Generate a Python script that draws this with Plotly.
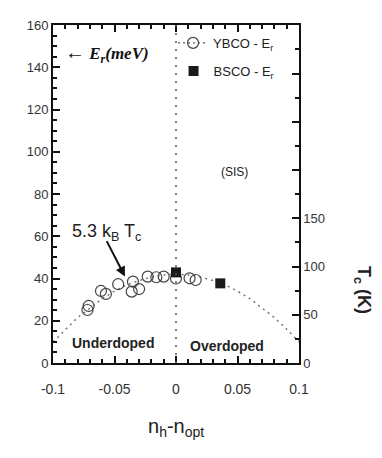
import plotly.graph_objects as go

# YBCO resonance energy E_r (meV) vs doping offset
ybco_x = [-0.072, -0.071, -0.061, -0.057, -0.047, -0.035, -0.036, -0.030,
          -0.023, -0.016, -0.010, 0.000, 0.011, 0.016]
ybco_e = [25.1, 27.0, 34.1, 32.7, 37.3, 38.5, 33.8, 35.0,
          40.9, 40.6, 40.9, 40.0, 40.1, 39.3]

# BSCO resonance energy
bsco_x = [0.000, 0.036]
bsco_e = [42.9, 37.7]

# dotted Tc dome (in E_r units)
dome_x = [-0.1, -0.09, -0.08, -0.07, -0.06, -0.05, -0.04, -0.03, -0.02, -0.01, 0.0,
          0.01, 0.02, 0.03, 0.04, 0.05, 0.06, 0.07, 0.08, 0.09, 0.1]
dome_e = [10, 16, 21.5, 26, 30.5, 34, 37, 39, 40.7, 41.7, 42,
          41.7, 40.7, 39, 37, 34, 30.5, 26, 21.5, 16, 10]

x_ticks = [-0.1, -0.05, 0, 0.05, 0.1]
x_labels = ["-0.1", "-0.05", "0", "0.05", "0.1"]
tc_ticks = [0, 50, 100, 150, 200, 250, 300, 350]
tc_labels = ["0", "50", "100", "150", "", "", "", ""]

E_MAX = 160
TC_MAX = E_MAX / (5.3 * 0.08617)  # right axis scaled so that E = 5.3 kB Tc

FONT = "Liberation Sans, Arial, sans-serif"
INK = "#222"

fig = go.Figure()

fig.add_trace(go.Scatter(
    x=dome_x, y=dome_e, mode="lines", showlegend=False,
    line=dict(color="#777", width=1.5, dash="2px,4px")))

fig.add_trace(go.Scatter(
    x=ybco_x, y=ybco_e, mode="markers", showlegend=False,
    marker=dict(symbol="circle-open", size=11, color="#444", line=dict(width=1.2))))

fig.add_trace(go.Scatter(
    x=bsco_x, y=bsco_e, mode="markers", name="BSCO - E<sub>r</sub>", legend="legend2",
    marker=dict(symbol="square", size=10, color="#1a1a1a")))

# legend-only entry: dotted line with an open circle
fig.add_trace(go.Scatter(
    x=[None], y=[None], mode="lines+markers", name="YBCO - E<sub>r</sub>",
    line=dict(color="#555", width=1.2, dash="2px,3px"),
    marker=dict(symbol="circle-open", size=11, color="#444", line=dict(width=1.2))))

# invisible trace to bring in the Tc axis
fig.add_trace(go.Scatter(x=[None], y=[None], yaxis="y2", showlegend=False, hoverinfo="skip"))

fig.add_shape(type="line", xref="x", yref="y", x0=0, x1=0, y0=0, y1=E_MAX,
              line=dict(color="#555", width=1.5, dash="2px,6px"))

ann = [
    dict(x=-0.092, y=146.7, xanchor="left", yanchor="middle",
         text="<span style='font-size:20px'>←</span> <b><i>E<sub>r</sub>(meV)</i></b>",
         font=dict(family="Liberation Serif, Times New Roman, serif", size=17, color="#111")),
    dict(x=0.0476, y=90.4, text="(SIS)", font=dict(family=FONT, size=12, color=INK)),
    dict(x=-0.0862, y=62.0, xanchor="left", yanchor="middle",
         text="5.3 k<sub>B</sub> T<sub>c</sub>", font=dict(family=FONT, size=18, color=INK)),
    dict(x=-0.0512, y=9.5, text="<b>Underdoped</b>", font=dict(family=FONT, size=14, color=INK)),
    dict(x=0.0415, y=8.0, text="<b>Overdoped</b>", font=dict(family=FONT, size=14, color=INK)),
    dict(xref="paper", yref="paper", x=1.256, y=0.216, textangle=90,
         xanchor="center", yanchor="middle",
         text="<b>T<sub>c</sub> (K)</b>", font=dict(family=FONT, size=18, color=INK)),
    dict(xref="paper", yref="paper", x=0.5, y=-0.19, xanchor="center", yanchor="middle",
         text="n<sub>h</sub>-n<sub>opt</sub>", font=dict(family=FONT, size=20, color=INK)),
]
for a in ann:
    a.setdefault("xref", "x")
    a.setdefault("yref", "y")
    a["showarrow"] = False
    fig.add_annotation(**a)

fig.add_annotation(x=-0.0415, y=40.9, ax=-19, ay=-37, text="", showarrow=True,
                   arrowhead=2, arrowsize=1, arrowwidth=2, arrowcolor="#111")

axis_common = dict(showgrid=False, zeroline=False, showline=True, linecolor="#111",
                   linewidth=2, ticks="inside", ticklen=7, tickwidth=1.5, tickcolor="#111",
                   automargin=False,
                   tickfont=dict(family=FONT, size=13, color="#333"))

fig.update_layout(
    width=382, height=458,
    margin=dict(l=53, r=83, t=25, b=95, autoexpand=False),
    paper_bgcolor="white", plot_bgcolor="white",
    xaxis=dict(range=[-0.1, 0.1], tickvals=x_ticks, ticktext=x_labels, mirror="ticks",
               ticklabelstandoff=12,
               minor=dict(dtick=0.01, ticks="inside", ticklen=4, tickcolor="#111"),
               **{**axis_common, "tickfont": dict(family=FONT, size=14, color="#333")}),
    yaxis=dict(range=[0, E_MAX], dtick=20,
               minor=dict(dtick=5, ticks="inside", ticklen=4, tickcolor="#111"),
               **axis_common),
    yaxis2=dict(range=[0, TC_MAX], overlaying="y", side="right",
                tickvals=tc_ticks, ticktext=tc_labels,
                minor=dict(tickmode="linear", tick0=0, dtick=25, ticks="inside",
                           ticklen=4, tickcolor="#111"),
                **{**axis_common, "linewidth": 1.5}),
    legend=dict(x=0.488, y=0.947, xanchor="left", yanchor="middle",
                bgcolor="rgba(0,0,0,0)", font=dict(family=FONT, size=13, color=INK)),
    legend2=dict(x=0.49, y=0.864, xanchor="left", yanchor="middle",
                 bgcolor="rgba(0,0,0,0)", font=dict(family=FONT, size=13, color=INK)),
)

# drop the browser's default body margin so the figure sits at the page corner
fig.write_html("out.html", config={"displayModeBar": False},
               post_script="document.body.style.margin='0';")
